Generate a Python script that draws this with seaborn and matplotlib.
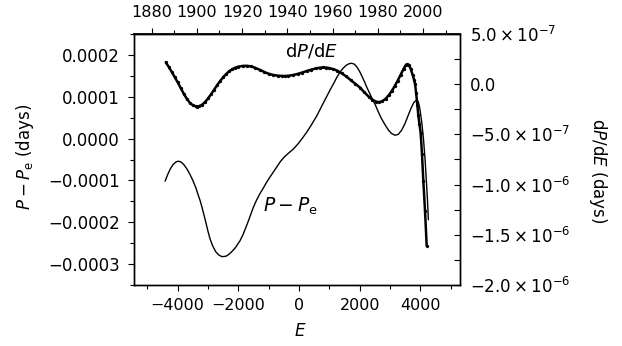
import numpy as np
import pandas as pd
import matplotlib
matplotlib.use("Agg")
import matplotlib.pyplot as plt
import seaborn as sns
from matplotlib.ticker import MultipleLocator, FuncFormatter

# ---- data ----
# P - Pe (days) in units of 1e-4, left axis
e_res = [-4415, -4330, -4240, -4150, -4060, -3977, -3890, -3800, -3700, -3600,
         -3500, -3400, -3300, -3262, -3200, -3100, -3000, -2932, -2850, -2750,
         -2650, -2550, -2494, -2400, -2300, -2200, -2100, -2000, -1944, -1850,
         -1750, -1650, -1550, -1505, -1400, -1300, -1200, -1065, -950, -800,
         -626, -500, -350, -188, -50, 100, 250, 400, 583, 750,
         900, 1021, 1150, 1250, 1351, 1450, 1550, 1650, 1736, 1820,
         1900, 2000, 2119, 2250, 2400, 2504, 2600, 2700, 2834, 2950,
         3050, 3163, 3270, 3380, 3493, 3600, 3700, 3790, 3877, 3930,
         3980, 4043, 4100, 4152, 4200, 4235, 4262]
res_e4 = [-1.02, -0.86, -0.72, -0.62, -0.56, -0.54, -0.56, -0.62, -0.72, -0.85,
          -1.00, -1.18, -1.40, -1.48, -1.64, -1.92, -2.22, -2.40, -2.56, -2.70,
          -2.78, -2.82, -2.82, -2.81, -2.76, -2.69, -2.61, -2.50, -2.44, -2.30,
          -2.12, -1.93, -1.73, -1.64, -1.47, -1.33, -1.21, -1.04, -0.91, -0.75,
          -0.56, -0.45, -0.35, -0.25, -0.14, 0.00, 0.15, 0.32, 0.54, 0.78,
          0.99, 1.16, 1.33, 1.47, 1.59, 1.68, 1.75, 1.79, 1.80, 1.78,
          1.72, 1.60, 1.42, 1.20, 0.97, 0.82, 0.66, 0.50, 0.33, 0.20,
          0.12, 0.08, 0.10, 0.20, 0.36, 0.56, 0.74, 0.87, 0.92, 0.88,
          0.72, 0.40, 0.00, -0.48, -1.06, -1.50, -1.94]

# dP/dE (days) in units of 1e-7, right axis
e_der = [-4392, -4300, -4200, -4100, -4000, -3900, -3800, -3700, -3600, -3500,
         -3400, -3371, -3300, -3200, -3100, -3000, -2900, -2800, -2700, -2600,
         -2500, -2400, -2300, -2200, -2100, -2000, -1850, -1724, -1600, -1450,
         -1300, -1150, -1000, -850, -700, -550, -461, -350, -200, -50,
         100, 250, 400, 550, 700, 801, 900, 1000, 1130, 1250,
         1400, 1550, 1700, 1850, 2010, 2150, 2300, 2420, 2550, 2650,
         2750, 2850, 2950, 3050, 3150, 3250, 3350, 3450, 3520, 3560,
         3620, 3680, 3740, 3790, 3822, 3860, 3900, 3931, 3970, 4010,
         4053, 4096, 4152, 4207]
der_e7 = [2.17, 1.75, 1.25, 0.72, 0.18, -0.38, -0.95, -1.45, -1.85, -2.10,
          -2.22, -2.23, -2.20, -2.05, -1.78, -1.42, -1.00, -0.55, -0.10, 0.32,
          0.70, 1.02, 1.30, 1.50, 1.65, 1.75, 1.82, 1.83, 1.78, 1.64,
          1.44, 1.22, 1.04, 0.92, 0.85, 0.82, 0.82, 0.84, 0.91, 1.02,
          1.16, 1.31, 1.45, 1.57, 1.65, 1.67, 1.66, 1.60, 1.50, 1.36,
          1.10, 0.78, 0.42, 0.05, -0.33, -0.80, -1.25, -1.55, -1.75, -1.78,
          -1.68, -1.45, -1.12, -0.70, -0.20, 0.35, 0.95, 1.55, 1.92, 2.00,
          1.90, 1.55, 0.95, 0.45, 0.05, -0.90, -2.10, -3.10, -4.00, -4.90,
          -7.00, -9.60, -12.60, -16.10]

right_ticks = [5e-7, 0.0, -5e-7, -1e-6, -1.5e-6, -2e-6]
right_labels = [r"$5.0\times10^{-7}$", "0.0", r"$-5.0\times10^{-7}$",
                r"$-1.0\times10^{-6}$", r"$-1.5\times10^{-6}$", r"$-2.0\times10^{-6}$"]
bottom_ticks = [-4000, -2000, 0, 2000, 4000]
top_ticks = [1880, 1900, 1920, 1940, 1960, 1980, 2000]

df_res = pd.DataFrame({"E": e_res, "v": np.array(res_e4) * 1e-4})
df_der = pd.DataFrame({"E": e_der, "v": np.array(der_e7) * 1e-7})

# ---- style ----
sns.set_theme(style="ticks")
plt.rcParams["font.family"] = ["DejaVu Sans"]
plt.rcParams["mathtext.fontset"] = "dejavusans"
plt.rcParams["axes.unicode_minus"] = True
for k in ("text.color", "axes.labelcolor", "xtick.color", "ytick.color",
          "xtick.labelcolor", "ytick.labelcolor", "axes.edgecolor"):
    plt.rcParams[k] = "black"

W, H = 622, 346
fig = plt.figure(figsize=(W / 100, H / 100), dpi=100)
L, R, T, B = 134, 460, 34, 285
ax = fig.add_axes([L / W, 1 - B / H, (R - L) / W, (B - T) / H])

sns.lineplot(data=df_res, x="E", y="v", ax=ax, color="black", lw=1.0,
             estimator=None, sort=False)
ax.set_xlim(-5440, 5305)
ax.set_ylim(-0.00035, 0.00025)
ax.yaxis.set_major_locator(MultipleLocator(0.0001))
ax.yaxis.set_minor_locator(MultipleLocator(0.00005))
ax.yaxis.set_major_formatter(FuncFormatter(
    lambda v, p: ("%.4f" % v).replace("-0.0000", "0.0000").replace("-", "\u2212")))
ax.set_xticks(bottom_ticks)
ax.set_xticklabels([str(t).replace("-", "\u2212") for t in bottom_ticks])
ax.xaxis.set_minor_locator(MultipleLocator(1000))
ax.set_xlabel("")
ax.set_ylabel("")
ax.tick_params(axis="y", which="major", direction="out", length=4, width=0.8,
               labelsize=12, pad=6, colors="black")
ax.tick_params(axis="x", which="major", direction="out", length=4, width=0.8,
               labelsize=11.5, pad=5, colors="black")
ax.tick_params(axis="both", which="minor", direction="out", length=3, width=0.8,
               colors="black")

ax2 = ax.twinx()
sns.lineplot(data=df_der, x="E", y="v", ax=ax2, color="black", lw=1.8,
             marker="o", markersize=2.4, markeredgewidth=0,
             estimator=None, sort=False)
ax2.set_ylim(-2e-6, 5e-7)
ax2.set_yticks(right_ticks)
ax2.set_yticklabels(right_labels)
ax2.yaxis.set_minor_locator(MultipleLocator(2.5e-7))
ax2.set_ylabel("")
ax2.set_xlabel("")
ax2.tick_params(axis="y", which="major", direction="in", length=4, width=0.8,
                labelsize=12, pad=7, colors="black")
ax2.tick_params(axis="y", which="minor", direction="in", length=4, width=0.8,
                colors="black")

# top axis: calendar year
def e2y(e):
    return 2000 + (np.asarray(e, dtype=float) - 4086) / 74.55

def y2e(y):
    return 4086 + (np.asarray(y, dtype=float) - 2000) * 74.55

top = ax.secondary_xaxis("top", functions=(e2y, y2e))
top.set_xticks(top_ticks)
top.xaxis.set_minor_locator(MultipleLocator(10))
top.tick_params(axis="x", which="major", direction="out", length=4, width=0.8,
                labelsize=11.5, pad=6, colors="black")
top.tick_params(axis="x", which="minor", direction="out", length=3, width=0.8,
                colors="black")

for a in (ax, ax2):
    for s in a.spines.values():
        s.set_visible(True)
        s.set_linewidth(1.0)
        s.set_color("black")

# axis titles
fig.text(300 / W, 1 - 331 / H, r"$E$", fontsize=12, ha="center", va="center")
fig.text(25 / W, 1 - 157 / H, r"$P-P_{\mathrm{e}}$ (days)", fontsize=12,
         rotation=90, ha="center", va="center")
fig.text(598 / W, 1 - 171 / H, r"d$P$/d$E$ (days)", fontsize=12,
         rotation=270, ha="center", va="center")

# in-plot labels
ax.text(428, 0.000209, r"d$P$/d$E$", fontsize=13, ha="center", va="center")
ax.text(-297, -0.000162, r"$P-P_{\mathrm{e}}$", fontsize=13.5, ha="center", va="center")

fig.savefig("out.png", dpi=100)
